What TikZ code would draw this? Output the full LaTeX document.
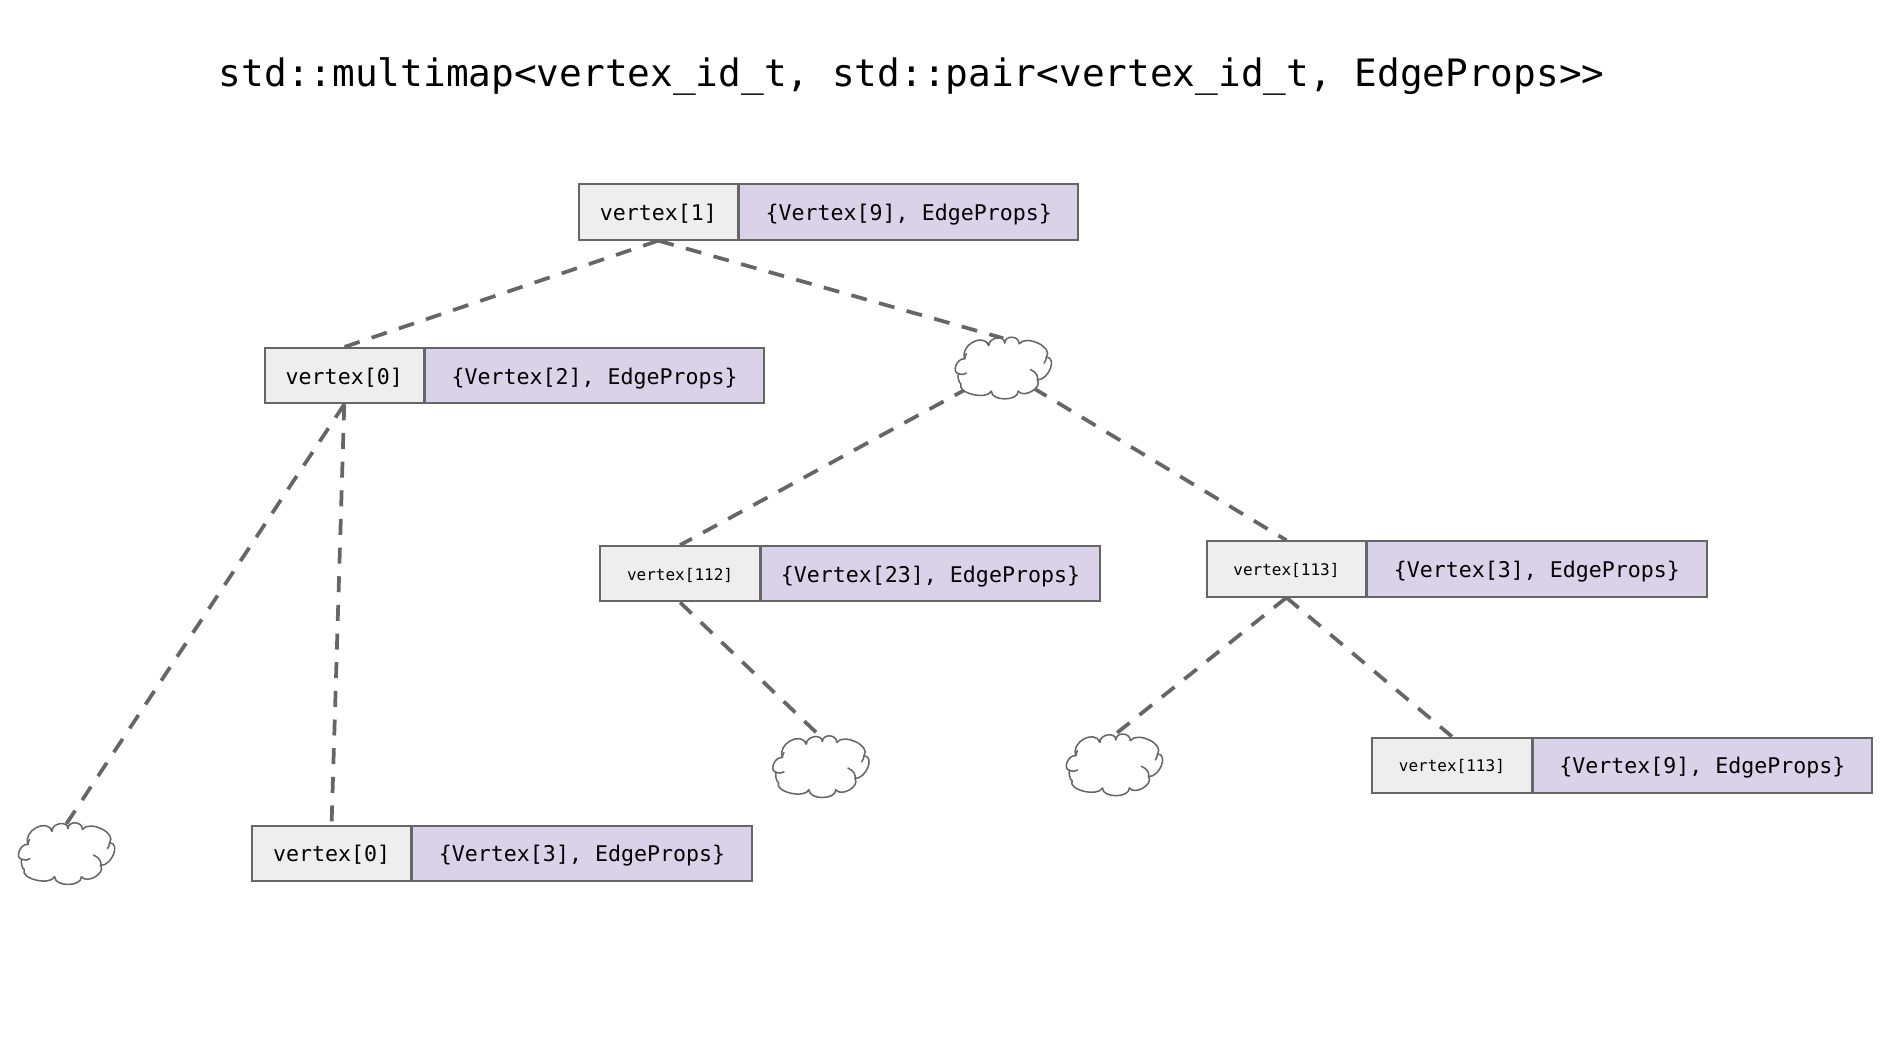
\documentclass[tikz,border=0pt]{standalone}
\usepackage{fontspec}
\setmonofont{DejaVu Sans Mono}
\usetikzlibrary{backgrounds}
\definecolor{edgegray}{HTML}{666666}
\definecolor{keyfill}{HTML}{EEEEEE}
\definecolor{valfill}{HTML}{D9D2E9}
\newcommand{\cloudshape}{%
  \begin{scope}[x=0.24pt,y=-0.25pt,shift={(-200,-192)},draw=edgegray,line width=1.15pt,line join=round,line cap=round]
    \filldraw[fill=white] (62,210)
      .. controls (37,207) and (55,162) .. (80,165)
      .. controls (63,125) and (138,85) .. (155,125)
      .. controls (155,100) and (205,93) .. (205,118)
      .. controls (205,93) and (250,95) .. (250,120)
      .. controls (273,91) and (358,131) .. (335,160)
      .. controls (370,161) and (342,229) .. (307,228)
      .. controls (324,251) and (264,285) .. (247,262)
      .. controls (247,293) and (163,293) .. (163,262)
      .. controls (149,290) and (54,268) .. (68,240)
      .. controls (61,240) and (55,210) .. (62,210) -- cycle;
    \draw (62,210) .. controls (70,214) and (78,212) .. (85,208);
    \draw (285,197) .. controls (305,205) and (310,220) .. (307,228);
    \draw (155,125) .. controls (154,122) and (152,120) .. (150,118);
    \draw (80,165) .. controls (80,160) and (82,154) .. (85,150);
    \draw (335,160) .. controls (335,166) and (332,173) .. (328,178);
  \end{scope}}
\tikzset{
  keybox/.style={draw=edgegray,fill=keyfill,line width=1.5pt,minimum width=119.6pt,minimum height=41.5pt,inner sep=0pt,font=\ttfamily\fontsize{16.2}{18}\selectfont,text=black,text height=14.3pt,text depth=1.7pt},
  smallkey/.style={keybox,font=\ttfamily\fontsize{12}{14}\selectfont,text height=10.8pt,text depth=0.8pt},
  valbox/.style={draw=edgegray,fill=valfill,line width=1.5pt,minimum width=254.6pt,minimum height=41.5pt,inner sep=0pt,anchor=west,font=\ttfamily\fontsize{16.2}{18}\selectfont,text=black,text height=14.3pt,text depth=1.7pt},
  cloudspot/.style={minimum width=72pt,minimum height=44pt,inner sep=0pt},
  tieline/.style={draw=edgegray,line width=2.8pt,dash pattern=on 12pt off 9.5pt},
  titletext/.style={anchor=base west,inner sep=0pt,font=\ttfamily\fontsize{28.3}{32}\selectfont,text=black}
}
\begin{document}
\begin{tikzpicture}[x=0.906pt,y=-0.906pt]
\useasboundingbox (0,0) rectangle (1568,861);
\node[titletext] (title) at (181,72) {std::multimap<vertex\_id\_t, std::pair<vertex\_id\_t, EdgeProps>{}>};

\node[keybox] (a) at (545,175.5) {vertex[1]};
\node[valbox] (av) at (611,175.5) {\{Vertex[9], EdgeProps\}};
\node[keybox] (b) at (285,311) {vertex[0]};
\node[valbox] (bv) at (351,311) {\{Vertex[2], EdgeProps\}};
\node[smallkey] (c) at (563,475) {vertex[112]};
\node[valbox] (cv) at (629,475) {\{Vertex[23], EdgeProps\}};
\node[smallkey] (d) at (1065,471) {vertex[113]};
\node[valbox] (dv) at (1131,471) {\{Vertex[3], EdgeProps\}};
\node[smallkey] (e) at (1202,633.5) {vertex[113]};
\node[valbox] (ev) at (1268,633.5) {\{Vertex[9], EdgeProps\}};
\node[keybox] (f) at (274.5,706.5) {vertex[0]};
\node[valbox] (fv) at (340.5,706.5) {\{Vertex[3], EdgeProps\}};

\node[cloudspot] (c1) at (830.5,304.5) {};
\node[cloudspot] (c2) at (679.5,634.5) {};
\node[cloudspot] (c3) at (922.5,633) {};
\node[cloudspot] (c4) at (55,706.5) {};
\coordinate (c1sw) at (802,321);
\coordinate (c1se) at (855,321);

\foreach \n in {c1,c2,c3,c4}{
  \begin{scope}[shift={(\n.center)}]\cloudshape\end{scope}
}

\begin{pgfonlayer}{background}
  \draw[tieline] (a.south) -- (b.north);
  \draw[tieline] (a.south) -- (c1.north);
  \draw[tieline] (c1sw) -- (c.north);
  \draw[tieline] (c1se) -- (d.north);
  \draw[tieline] (b.south) -- (f.north);
  \draw[tieline] (b.south) -- (c4.north);
  \draw[tieline] (c.south) -- (c2.north);
  \draw[tieline] (d.south) -- (c3.north);
  \draw[tieline] (d.south) -- (e.north);
\end{pgfonlayer}
\end{tikzpicture}
\end{document}
